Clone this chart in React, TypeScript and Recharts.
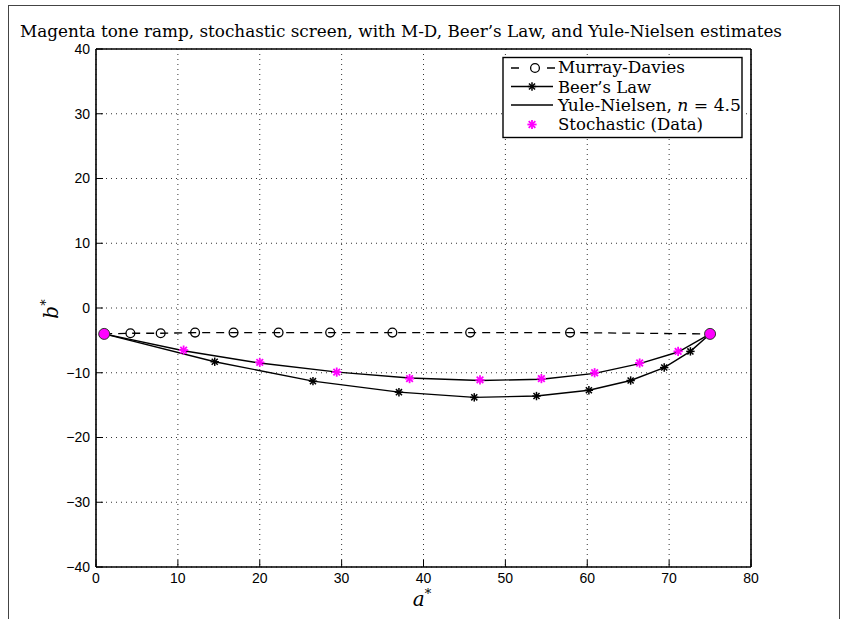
import React from 'react';
import { ComposedChart, Line, Scatter, XAxis, YAxis, CartesianGrid } from 'recharts';

const xTicks = [0, 10, 20, 30, 40, 50, 60, 70, 80];
const yTicks = [-40, -30, -20, -10, 0, 10, 20, 30, 40];

// Murray-Davies estimate
const mdA = [1, 4.2, 7.9, 12.1, 16.8, 22.3, 28.6, 36.2, 45.7, 57.9, 75];
const mdB = [-4, -3.9, -3.9, -3.8, -3.8, -3.8, -3.8, -3.8, -3.8, -3.8, -4];

// Beer's law estimate
const beerA = [1, 14.5, 26.5, 37.0, 46.2, 53.8, 60.2, 65.3, 69.4, 72.6, 75];
const beerB = [-4, -8.3, -11.3, -13.0, -13.8, -13.6, -12.7, -11.2, -9.2, -6.7, -4];

// Yule-Nielsen estimate, n = 4.5
const ynA = [1, 10.7, 20.0, 29.5, 38.3, 46.9, 54.4, 60.9, 66.4, 71.1, 75];
const ynB = [-4, -6.6, -8.5, -9.9, -10.8, -11.2, -11.0, -10.1, -8.6, -6.8, -4];

// measured stochastic screen
const stochA = [1, 10.7, 20.0, 29.4, 38.3, 46.9, 54.4, 60.9, 66.4, 71.1, 75];
const stochB = [-4, -6.5, -8.4, -9.9, -10.9, -11.1, -10.9, -10.0, -8.5, -6.7, -4];

const zip = (a: number[], b: number[]) => a.map((v, i) => ({ a: v, b: b[i] }));

const mdData = zip(mdA, mdB);
const beerData = zip(beerA, beerB);
const ynData = zip(ynA, ynB);
const stochData = zip(stochA, stochB);
const endData = [stochData[0], stochData[stochData.length - 1]];

const MAGENTA = '#ff00ff';
const SERIF = '"DejaVu Serif", serif';
const SANS = '"Liberation Sans", Arial, sans-serif';

const fmt = (v: number) => (v < 0 ? `\u2212${Math.abs(v)}` : `${v}`);

const Star = ({ cx, cy, color, r = 4.2, w = 1.5 }: any) => {
  const d = r * 0.72;
  return (
    <g stroke={color} strokeWidth={w}>
      <line x1={cx - r} y1={cy} x2={cx + r} y2={cy} />
      <line x1={cx} y1={cy - r} x2={cx} y2={cy + r} />
      <line x1={cx - d} y1={cy - d} x2={cx + d} y2={cy + d} />
      <line x1={cx - d} y1={cy + d} x2={cx + d} y2={cy - d} />
    </g>
  );
};

const tickStyle = { fill: '#000', fontSize: 14, fontFamily: SANS };

export default function App() {
  return (
    <div style={{ position: 'absolute', left: 0, top: 0, width: 844, height: 619, overflow: 'hidden', background: '#fff' }}>
      <div style={{ position: 'absolute', left: 0, top: 0 }}>
        <ComposedChart width={844} height={619} margin={{ top: 48, right: 92, bottom: 22, left: 36 }}>
          <CartesianGrid stroke="#333" strokeDasharray="1 4" strokeWidth={1} />
          <XAxis
            type="number"
            dataKey="a"
            domain={[0, 80]}
            ticks={xTicks}
            height={30}
            tickSize={-7}
            tickMargin={13}
            tick={tickStyle}
            tickFormatter={fmt}
            axisLine={{ stroke: '#000', strokeWidth: 1.6 }}
            tickLine={{ stroke: '#000' }}
          />
          <XAxis
            xAxisId="top"
            orientation="top"
            type="number"
            dataKey="a"
            domain={[0, 80]}
            ticks={xTicks}
            height={1}
            tickSize={-7}
            tick={false}
            axisLine={{ stroke: '#000', strokeWidth: 1.6 }}
            tickLine={{ stroke: '#000' }}
          />
          <YAxis
            type="number"
            domain={[-40, 40]}
            ticks={yTicks}
            width={60}
            tickSize={-7}
            tickMargin={13}
            tick={tickStyle}
            tickFormatter={fmt}
            axisLine={{ stroke: '#000', strokeWidth: 1.6 }}
            tickLine={{ stroke: '#000' }}
          />
          <YAxis
            yAxisId="right"
            orientation="right"
            type="number"
            domain={[-40, 40]}
            ticks={yTicks}
            width={1}
            tickSize={-7}
            tick={false}
            axisLine={{ stroke: '#000', strokeWidth: 1.6 }}
            tickLine={{ stroke: '#000' }}
          />
          <Line
            data={mdData}
            dataKey="b"
            type="linear"
            stroke="#000"
            strokeWidth={1.3}
            strokeDasharray="8 6"
            isAnimationActive={false}
            dot={(p: any) => (
              <circle key={`md-${p.index}`} cx={p.cx} cy={p.cy} r={4.4} fill="none" stroke="#000" strokeWidth={1.3} />
            )}
            activeDot={false}
          />
          <Line
            data={beerData}
            dataKey="b"
            type="linear"
            stroke="#000"
            strokeWidth={1.4}
            isAnimationActive={false}
            dot={(p: any) => <Star key={`be-${p.index}`} cx={p.cx} cy={p.cy} color="#000" />}
            activeDot={false}
          />
          <Line
            data={ynData}
            dataKey="b"
            type="linear"
            stroke="#000"
            strokeWidth={1.4}
            isAnimationActive={false}
            dot={false}
            activeDot={false}
          />
          <Scatter
            data={stochData}
            dataKey="b"
            isAnimationActive={false}
            shape={(p: any) => <Star cx={p.cx} cy={p.cy} color={MAGENTA} r={4.6} w={1.8} />}
          />
          <Scatter
            data={endData}
            dataKey="b"
            isAnimationActive={false}
            shape={(p: any) => <circle cx={p.cx} cy={p.cy} r={5.5} fill={MAGENTA} stroke="#333" strokeWidth={1} />}
          />
        </ComposedChart>
      </div>
      <svg width={844} height={619} style={{ position: 'absolute', left: 0, top: 0, pointerEvents: 'none' }}>
        <rect x={8.5} y={5.5} width={831} height={700} fill="none" stroke="#444" strokeWidth={1} />
        <text x={20} y={37} fontFamily={SERIF} fontSize={16} textLength={762} lengthAdjust="spacingAndGlyphs" fill="#000">
          Magenta tone ramp, stochastic screen, with M-D, Beer’s Law, and Yule-Nielsen estimates
        </text>
        <text x={422} y={606} textAnchor="middle" fontFamily={SERIF} fontSize={20} fill="#000">
          <tspan fontStyle="italic">a</tspan>
          <tspan fontSize={13} dy={-8}>*</tspan>
        </text>
        <text transform="translate(58,309) rotate(-90)" textAnchor="middle" fontFamily={SERIF} fontSize={20} fill="#000">
          <tspan fontStyle="italic">b</tspan>
          <tspan fontSize={13} dy={-8}>*</tspan>
        </text>
        <g>
          <rect x={503} y={57.5} width={239} height={80} fill="#fff" stroke="#000" strokeWidth={1.4} />
          <line x1={511} y1={68} x2={519} y2={68} stroke="#000" strokeWidth={1.5} />
          <circle cx={535} cy={68} r={4.4} fill="none" stroke="#000" strokeWidth={1.3} />
          <line x1={547} y1={68} x2={555} y2={68} stroke="#000" strokeWidth={1.5} />
          <line x1={511} y1={86.5} x2={553} y2={86.5} stroke="#000" strokeWidth={1.4} />
          <Star cx={532} cy={86.5} color="#000" />
          <line x1={511} y1={105} x2={553} y2={105} stroke="#000" strokeWidth={1.4} />
          <Star cx={532} cy={124.5} color={MAGENTA} r={4.6} w={1.8} />
          <g fontFamily={SERIF} fontSize={16} fill="#000">
            <text x={558} y={73} textLength={127} lengthAdjust="spacingAndGlyphs">Murray-Davies</text>
            <text x={558} y={92.5} textLength={93} lengthAdjust="spacingAndGlyphs">Beer’s Law</text>
            <text x={558} y={111} textLength={183} lengthAdjust="spacingAndGlyphs">
              Yule-Nielsen, <tspan fontStyle="italic">n</tspan> = 4.5
            </text>
            <text x={558} y={129.5} textLength={145} lengthAdjust="spacingAndGlyphs">Stochastic (Data)</text>
          </g>
        </g>
      </svg>
    </div>
  );
}
